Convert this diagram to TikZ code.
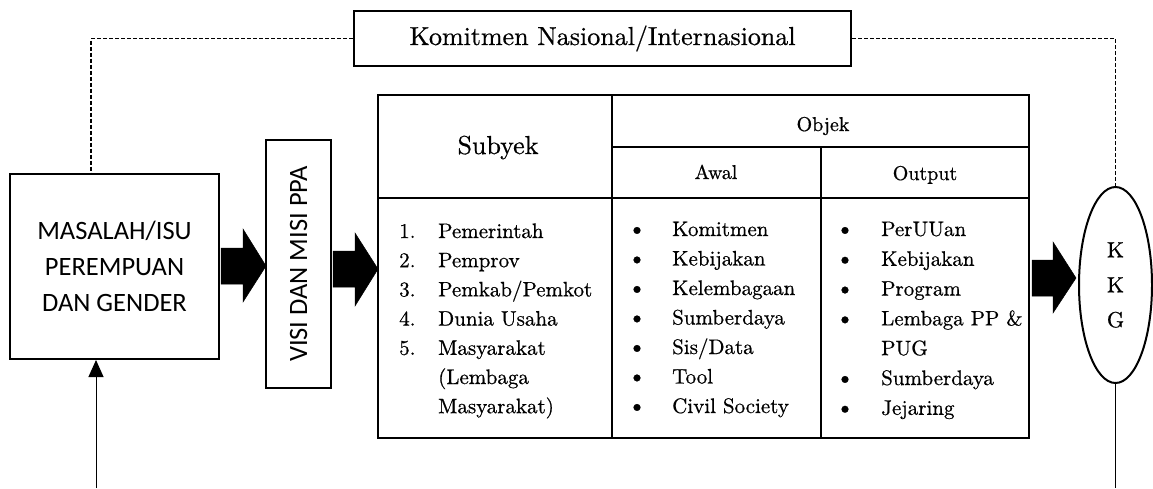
\documentclass[tikz,border=0pt]{standalone}
\usepackage{fontspec}
\setmainfont{lmroman10-regular}[Extension=.otf, FakeBold=0.6]
\newfontfamily\calibri{Carlito}
\usetikzlibrary{shapes.geometric,arrows.meta,calc}
\begin{document}
\begin{tikzpicture}[x=1pt,y=-1pt,
  box/.style={draw, line width=2pt, inner sep=0pt},
  dashconn/.style={line width=1.3pt, dash pattern=on 4pt off 2pt},
  blockarrow/.style={fill=black, draw=black, line width=0.5pt, line join=miter},
  lst/.style={anchor=base west, inner sep=0pt, font=\fontsize{21}{25}\selectfont},
  bul/.style={anchor=base, inner sep=0pt, font=\fontsize{24}{25}\selectfont},
  hdr/.style={anchor=base, inner sep=0pt, font=\fontsize{20}{24}\selectfont},
  sans/.style={font=\calibri\fontsize{26.5}{36}\selectfont}]
\useasboundingbox (0,0) rectangle (1153,488);

% left box
\node[box, sans, align=center, minimum width=209pt, minimum height=185pt] (masalah) at (114.5,266.5)
  {MASALAH/ISU\\PEREMPUAN\\DAN GENDER};
% visi box (rotated)
\node[box, sans, rotate=90, minimum width=248pt, minimum height=65pt] (visi) at (298.5,264) {VISI DAN MISI PPA};
% komitmen
\node[box, font=\fontsize{26}{30}\selectfont, minimum width=497pt, minimum height=55pt] (komitmen) at (602.5,38.5)
  {Komitmen Nasional/Internasional};
% ellipse
\node[draw, ellipse, line width=2pt, inner sep=0pt, minimum width=73pt, minimum height=196pt,
  align=center, font=\fontsize{22}{35}\selectfont] (kkg) at (1115.5,285) {K\\K\\G};

% table
\node[box, minimum width=651pt, minimum height=343pt] (tbl) at (703.5,266.5) {};
\coordinate (c1) at (612,95);
\coordinate (c2) at (821,147);
\draw[line width=2pt] (c1) -- (c1 |- tbl.south);
\draw[line width=2pt] (c2) -- (c2 |- tbl.south);
\draw[line width=2pt] (c1 |- c2) -- (c2 -| tbl.east);
\draw[line width=2pt] (tbl.west |- 0,198) -- (tbl.east |- 0,198);

% headers
\node[anchor=base, inner sep=0pt, font=\fontsize{26}{30}\selectfont] (subyek) at (498,154) {Subyek};
\node[hdr] (objek) at (823,131) {Objek};
\node[hdr] (awal) at (716,179) {Awal};
\node[hdr] (output) at (925,180) {Output};

% subyek list
\foreach \t [count=\i] in {1.,2.,3.,4.,5.}
  \node[lst] (n\i) at (399,{238+(\i-1)*29.2}) {\t};
\foreach \t [count=\i] in {Pemerintah,Pemprov,Pemkab/Pemkot,Dunia Usaha,Masyarakat}
  \node[lst] (s\i) at (438,{238+(\i-1)*29.2}) {\t};
\node[lst] (s6) at (438,{238+5*29.2}) {(Lembaga};
\node[lst] (s7) at (438,{238+6*29.2}) {Masyarakat)};

% awal list
\foreach \t [count=\i] in {Komitmen,Kebijakan,Kelembagaan,Sumberdaya,Sis/Data,Tool,Civil Society} {
  \node[bul] (ab\i) at (637,{236+(\i-1)*29.5}) {\textbullet};
  \node[lst] (a\i) at (672,{236+(\i-1)*29.5}) {\t};
}

% output list
\foreach \t [count=\i] in {PerUUan,Kebijakan,Program,Lembaga PP \&,PUG,Sumberdaya,Jejaring}
  \node[lst] (o\i) at (881,{236+(\i-1)*29.8}) {\t};
\foreach \i in {1,2,3,4,6,7}
  \node[bul] (ob\i) at (845,{236+(\i-1)*29.8}) {\textbullet};

% block arrows
\fill[blockarrow] (221,248) -- (243,248) -- (243,229) -- (266,266) -- (243,302) -- (243,284) -- (221,284) -- cycle;
\fill[blockarrow] (333,251) -- (355,251) -- (355,233) -- (378,269) -- (355,306) -- (355,287) -- (333,287) -- cycle;
\fill[blockarrow] (1032,260) -- (1053,260) -- (1053,242) -- (1076,278) -- (1053,313) -- (1053,296) -- (1032,296) -- cycle;

% dashed connectors
\coordinate (dl) at ($(masalah.north west)+(82,0)$);
\draw[dashconn] (komitmen.west) -| (dl);
\draw[dashconn] (komitmen.east) -| (kkg.north);

% bottom lines
\coordinate (bl) at (96,488);
\draw[line width=1pt, -{Triangle[length=17pt,width=15pt]}] (bl) -- (bl |- masalah.south);
\coordinate (br) at (kkg.south |- bl);
\draw[line width=1pt] (kkg.south) -- (br);
\end{tikzpicture}
\end{document}
